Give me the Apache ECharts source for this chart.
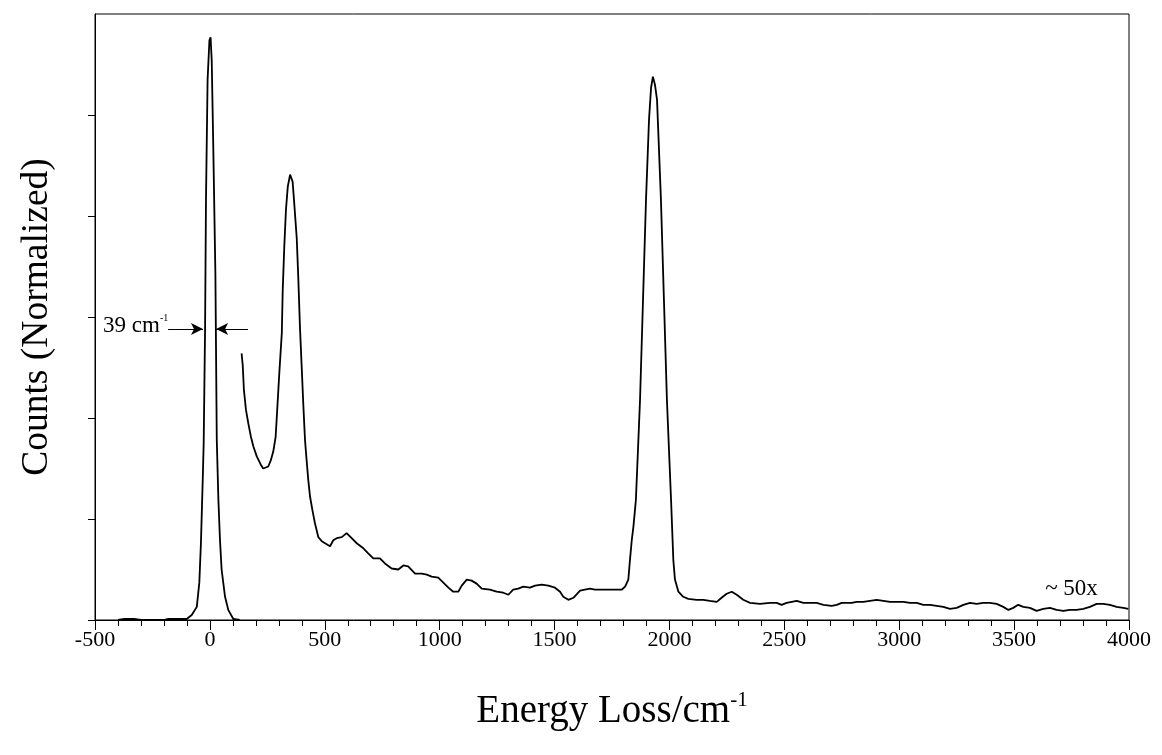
<!DOCTYPE html>
<html><head><meta charset="utf-8">
<script src="https://cdn.jsdelivr.net/npm/echarts@6/dist/echarts.min.js"></script>
<style>html,body{margin:0;padding:0;background:#fff}#c{width:1162px;height:755px}</style>
</head><body><div id="c"></div>
<script>
// x range of the energy-loss axis (cm^-1)
const xRange = [-500, 4000];
const xStep = 500;
const yRange = [0, 6];
const yTickValues = [0, 1, 2, 3, 4, 5];

// elastic (zero-loss) peak, unscaled
const elasticPoints = [
  [-400,0],[-372,0.01],[-330,0.01],[-300,0],[-200,0],[-182,0.01],[-130,0.01],[-101,0.01],
  [-79,0.05],[-57,0.13],[-46,0.37],[-39,0.76],[-31,1.40],[-27,1.75],[-21,2.87],[-17,4.16],
  [-10,5.35],[-2,5.74],[3,5.77],[8,5.54],[15,4.65],[24,3.42],[30,1.78],[37,1.19],[44,0.79],
  [51,0.50],[66,0.23],[80,0.10],[102,0.01],[130,0]
];

// loss spectrum, magnified ~50x
const lossPoints = [
  [138,2.64],[143,2.52],[148,2.28],[157,2.08],[167,1.95],[178,1.82],[189,1.72],[204,1.62],
  [221,1.54],[232,1.50],[254,1.52],[265,1.58],[276,1.67],[286,1.81],[293,2.08],[302,2.44],
  [313,2.84],[317,3.27],[324,3.71],[331,4.06],[339,4.29],[349,4.41],[353,4.42],[360,4.34],
  [366,4.16],[378,3.78],[385,3.37],[392,2.90],[400,2.48],[407,2.11],[414,1.78],[421,1.58],
  [428,1.39],[436,1.22],[446,1.09],[457,0.96],[472,0.82],[487,0.78],[501,0.76],[523,0.73],
  [537,0.79],[552,0.81],[574,0.82],[595,0.86],[617,0.81],[639,0.76],[668,0.71],[689,0.66],
  [711,0.61],[740,0.61],[762,0.56],[791,0.51],[820,0.50],[842,0.54],[863,0.53],[893,0.46],
  [922,0.46],[944,0.45],[965,0.43],[994,0.42],[1016,0.37],[1038,0.32],[1059,0.28],[1081,0.28],
  [1096,0.34],[1118,0.40],[1139,0.39],[1161,0.36],[1183,0.31],[1219,0.30],[1248,0.28],[1277,0.27],
  [1299,0.25],[1320,0.30],[1342,0.31],[1364,0.33],[1393,0.32],[1415,0.34],[1444,0.35],[1473,0.34],
  [1502,0.32],[1524,0.28],[1538,0.23],[1560,0.20],[1582,0.22],[1611,0.29],[1632,0.30],[1654,0.31],
  [1676,0.30],[1705,0.30],[1734,0.30],[1763,0.30],[1792,0.30],[1807,0.33],[1821,0.40],[1828,0.59],
  [1836,0.79],[1843,0.92],[1854,1.19],[1863,1.68],[1872,2.18],[1885,3.17],[1898,4.16],[1911,4.95],
  [1920,5.27],[1928,5.38],[1937,5.30],[1946,5.15],[1963,4.16],[1976,3.17],[1989,2.18],[2007,1.19],
  [2017,0.59],[2024,0.40],[2039,0.28],[2060,0.23],[2082,0.21],[2119,0.20],[2147,0.20],[2176,0.19],
  [2206,0.18],[2227,0.22],[2249,0.26],[2271,0.28],[2293,0.25],[2321,0.20],[2351,0.17],[2394,0.16],
  [2438,0.17],[2467,0.17],[2488,0.15],[2510,0.17],[2532,0.18],[2554,0.19],[2583,0.17],[2612,0.17],
  [2641,0.17],[2670,0.15],[2706,0.14],[2728,0.15],[2750,0.17],[2771,0.17],[2793,0.17],[2815,0.18],
  [2844,0.18],[2873,0.19],[2902,0.20],[2931,0.19],[2960,0.18],[2989,0.18],[3018,0.18],[3047,0.17],
  [3076,0.17],[3105,0.15],[3134,0.15],[3163,0.14],[3192,0.13],[3221,0.11],[3250,0.12],[3279,0.15],
  [3308,0.17],[3337,0.16],[3366,0.17],[3395,0.17],[3424,0.16],[3453,0.13],[3475,0.10],[3496,0.12],
  [3518,0.15],[3540,0.13],[3569,0.12],[3598,0.09],[3627,0.11],[3656,0.12],[3685,0.10],[3714,0.09],
  [3743,0.10],[3772,0.10],[3801,0.11],[3830,0.13],[3859,0.16],[3888,0.16],[3917,0.15],[3946,0.13],
  [3975,0.12],[3997,0.11]
];

// FWHM annotation
const fwhmLevel = 2.88;
const fwhmLeftArrow = [-182, -30];
const fwhmRightArrow = [166, 27];
const fwhmText = ['39 cm', '-1'];
const fwhmTextAnchor = [-465, 2.92];
const scaleText = '~ 50x';
const scaleTextAnchor = [3635, 0.30];
const xTitle = ['Energy Loss/cm', '-1'];
const yTitle = 'Counts (Normalized)';

const serif = '"Liberation Serif", "DejaVu Serif", serif';
const chart = echarts.init(document.getElementById('c'), null, {renderer: 'canvas'});

const option = {
  backgroundColor: '#fff',
  animation: false,
  grid: {left: 95, right: 33, top: 14, bottom: 135, show: true, borderColor: '#000', borderWidth: 1, backgroundColor: 'transparent'},
  xAxis: {
    type: 'value', min: xRange[0], max: xRange[1], interval: xStep,
    axisLine: {show: true, onZero: false, lineStyle: {color: '#000', width: 1}},
    axisTick: {show: true, length: 10, lineStyle: {color: '#000', width: 1}},
    minorTick: {show: true, splitNumber: 5, length: 6, lineStyle: {color: '#000', width: 1}},
    splitLine: {show: false},
    axisLabel: {color: '#000', fontFamily: serif, fontSize: 22, margin: 9, formatter: v => String(v)}
  },
  yAxis: {
    type: 'value', min: yRange[0], max: yRange[1], interval: 1,
    axisLine: {show: true, onZero: false, lineStyle: {color: '#000', width: 1}},
    axisTick: {show: true, length: 7, customValues: yTickValues, lineStyle: {color: '#000', width: 1}},
    splitLine: {show: false},
    axisLabel: {show: false}
  },
  series: [
    {
      name: 'elastic', type: 'line', data: elasticPoints, showSymbol: false, symbol: 'none',
      lineStyle: {color: '#000', width: 1.8}, silent: true, z: 3,
      markLine: {
        silent: true, symbol: ['none', 'arrow'], symbolSize: [9, 12],
        lineStyle: {color: '#000', width: 1.2, type: 'solid'},
        label: {show: false},
        data: [
          [{coord: [fwhmLeftArrow[0], fwhmLevel]}, {coord: [fwhmLeftArrow[1], fwhmLevel]}],
          [{coord: [fwhmRightArrow[0], fwhmLevel]}, {coord: [fwhmRightArrow[1], fwhmLevel]}]
        ]
      }
    },
    {
      name: 'loss x50', type: 'line', data: lossPoints, showSymbol: false, symbol: 'none',
      lineStyle: {color: '#000', width: 1.8}, silent: true, z: 3
    }
  ]
};
chart.setOption(option);

const pFwhm = chart.convertToPixel({gridIndex: 0}, fwhmTextAnchor);
const pScale = chart.convertToPixel({gridIndex: 0}, scaleTextAnchor);
const gr = chart.getModel().getComponent('grid', 0).coordinateSystem.getRect();

chart.setOption({
  graphic: [
    {
      type: 'text', left: pFwhm[0], top: pFwhm[1] - 12, silent: true,
      style: {
        text: '{a|' + fwhmText[0] + '}{s|' + fwhmText[1] + '}',
        rich: {
          a: {fontFamily: serif, fontSize: 23, fill: '#000', lineHeight: 26},
          s: {fontFamily: serif, fontSize: 10, fill: '#000', verticalAlign: 'top', lineHeight: 10}
        }
      }
    },
    {
      type: 'text', left: pScale[0], top: pScale[1] - 12, silent: true,
      style: {text: scaleText, fontFamily: serif, fontSize: 23, fill: '#000'}
    },
    {
      type: 'text', x: gr.x + gr.width / 2, y: 712, silent: true,
      style: {
        text: '{a|' + xTitle[0] + '}{s|' + xTitle[1] + '}',
        align: 'center', verticalAlign: 'middle',
        rich: {
          a: {fontFamily: serif, fontSize: 39, fill: '#000', lineHeight: 44},
          s: {fontFamily: serif, fontSize: 21, fill: '#000', verticalAlign: 'top', lineHeight: 21}
        }
      }
    },
    {
      type: 'text', x: 37, y: 317, rotation: Math.PI / 2, silent: true,
      style: {text: yTitle, fontFamily: serif, fontSize: 37.5, fill: '#000', align: 'center', verticalAlign: 'middle'}
    }
  ]
});
</script></body></html>
